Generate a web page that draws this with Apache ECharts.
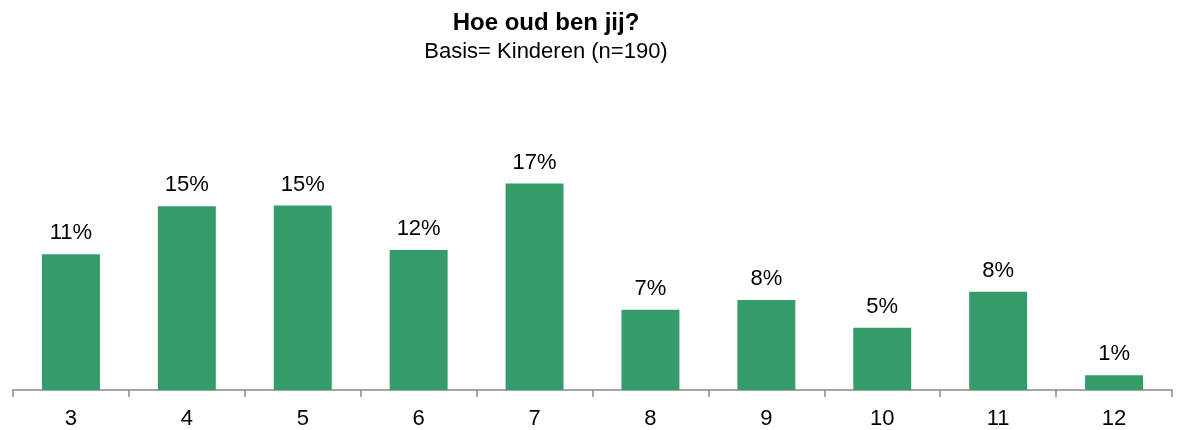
<!DOCTYPE html>
<html>
<head>
<meta charset="utf-8">
<script src="https://cdn.jsdelivr.net/npm/echarts@6/dist/echarts.min.js"></script>
<style>
html,body{margin:0;padding:0;background:#fff;}
#chart{width:1181px;height:430px;}
</style>
</head>
<body>
<div id="chart"></div>
<script>
const categories = ['3','4','5','6','7','8','9','10','11','12'];
const values = [11.35, 15.38, 15.44, 11.71, 17.28, 6.71, 7.53, 5.21, 8.22, 1.23];
const titleText = 'Hoe oud ben jij?';
const subtitleText = 'Basis= Kinderen (n=190)';

const chart = echarts.init(document.getElementById('chart'));
chart.setOption({
  animation: false,
  backgroundColor: '#ffffff',
  title: {
    text: titleText,
    subtext: subtitleText,
    left: 541,
    textAlign: 'center',
    top: 6,
    itemGap: 6,
    textStyle: { fontFamily: 'Liberation Sans, Arial', fontWeight: 'bold', fontSize: 24, color: '#000' },
    subtextStyle: { fontFamily: 'Liberation Sans, Arial', fontSize: 22, color: '#000' }
  },
  grid: { left: 13, right: 9, top: 151, bottom: 40, containLabel: false },
  xAxis: {
    type: 'category',
    data: categories,
    boundaryGap: true,
    axisLine: { show: true, lineStyle: { color: '#898989', width: 1.5 } },
    axisTick: { show: true, length: 7, lineStyle: { color: '#898989', width: 1.5 } },
    axisLabel: { fontFamily: 'Liberation Sans, Arial', fontSize: 22, color: '#000', margin: 18 }
  },
  yAxis: {
    type: 'value',
    min: 0,
    max: 20,
    show: false,
    splitLine: { show: false }
  },
  series: [{
    type: 'bar',
    data: values,
    barWidth: '50%',
    itemStyle: { color: '#349B69' },
    label: {
      show: true,
      position: 'top',
      distance: 10,
      formatter: p => Math.round(p.value) + '%',
      fontFamily: 'Liberation Sans, Arial',
      fontSize: 22,
      color: '#000'
    }
  }]
});
</script>
</body>
</html>
